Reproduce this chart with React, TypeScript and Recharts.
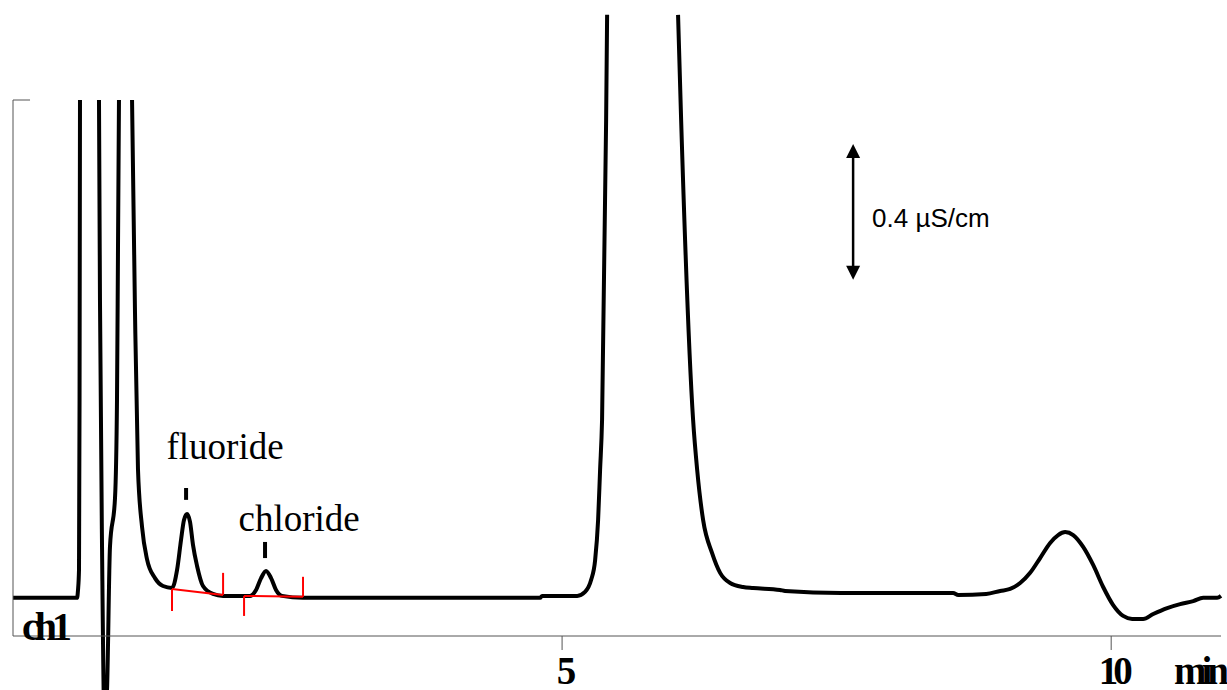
import { LineChart, Line, XAxis, YAxis, ReferenceLine, ReferenceDot } from "recharts";

// retention time (min) and conductivity (µS/cm); null = trace leaves the frame
const minutes = [
  0, 0.583, 0.592, 0.601, 0.606, 0.61, 0.7, 0.783, 0.792, 0.811, 0.833, 0.856, 0.883, 0.929,
  0.947, 0.956, 0.965, 1.02, 1.084, 1.111, 1.138, 1.175, 1.22, 1.293, 1.366, 1.448, 1.494,
  1.53, 1.557, 1.585, 1.612, 1.639, 1.676, 1.73, 1.821, 1.913, 2.158, 2.213, 2.259, 2.304,
  2.35, 2.395, 2.45, 2.641, 4.8, 4.818, 5.137, 5.209, 5.264, 5.301, 5.328, 5.346, 5.364,
  5.401, 5.41, 5.7, 6.056, 6.084, 6.193, 6.23, 6.284, 6.366, 6.439, 6.53, 6.648, 6.74, 6.985,
  7.031, 7.541, 8.561, 8.607, 8.862, 8.989, 9.08, 9.171, 9.262, 9.353, 9.444, 9.517, 9.581,
  9.654, 9.745, 9.836, 9.927, 10.018, 10.109, 10.191, 10.291, 10.383, 10.51, 10.628, 10.747,
  10.838, 10.965, 11.0,
];
const conductivity = [
  0.116, 0.116, 0.14, 0.201, 0.718, 1.63, null, 1.63, 1.022, 0.262, -0.255, -0.164, 0.271,
  0.42, 0.718, 1.174, 1.63, null, 1.63, 0.982, 0.508, 0.332, 0.234, 0.176, 0.152, 0.146,
  0.201, 0.292, 0.353, 0.371, 0.347, 0.277, 0.213, 0.152, 0.128, 0.122, 0.122, 0.14, 0.176,
  0.198, 0.176, 0.14, 0.122, 0.116, 0.116, 0.122, 0.122, 0.134, 0.17, 0.231, 0.353, 0.505,
  0.657, 1.569, 1.889, null, 1.889, 1.569, 0.657, 0.505, 0.353, 0.252, 0.192, 0.161, 0.149,
  0.146, 0.14, 0.137, 0.131, 0.131, 0.125, 0.128, 0.137, 0.143, 0.161, 0.192, 0.237, 0.283,
  0.307, 0.316, 0.307, 0.271, 0.216, 0.149, 0.094, 0.061, 0.052, 0.052, 0.067, 0.085, 0.097,
  0.106, 0.116, 0.116, 0.122,
];

const tickMinutes = [5, 10];

// peak annotations
const peakNames = ["fluoride", "chloride"];
const peakTimes = [1.576, 2.295];
const peakMarkLow = [0.414, 0.237];
const peakMarkHigh = [0.45, 0.286];
const nameTimes = [1.931, 2.605];
const nameLevels = [0.538, 0.319];

// integration baselines (red)
const integStart = [1.448, 2.104];
const integEnd = [1.913, 2.641];
const integStartLevel = [0.143, 0.122];
const integEndLevel = [0.125, 0.119];
const integMark = [0.067, 0.061];

// scale bar
const scaleTime = 7.65;
const scaleLow = 1.083;
const scaleHigh = 1.496;
const scaleText = "0.4 µS/cm";

const data = minutes.map((t, i) => ({ t, v: conductivity[i] }));

const serif = "'Liberation Serif', 'Times New Roman', serif";
const axisGrey = "#555";

const XTick = (props: any) => {
  const { x, y, payload } = props;
  return (
    <text
      x={x + 2}
      y={y + 32}
      textAnchor="middle"
      fontFamily={serif}
      fontWeight="bold"
      fontSize={39}
      letterSpacing={-5}
      fill="#000"
    >
      {payload.value}
    </text>
  );
};

const UnitLabel = (props: any) => {
  const vb = props.viewBox || {};
  return (
    <text
      x={vb.x + vb.width - 47}
      y={vb.y + 48}
      fontFamily={serif}
      fontWeight="bold"
      fontSize={39}
      letterSpacing={-5}
      fill="#000"
    >
      min
    </text>
  );
};

const ScaleArrow = (props: any) => {
  const { x1, y1, y2 } = props;
  const top = Math.min(y1, y2);
  const bottom = Math.max(y1, y2);
  return (
    <g>
      <line x1={x1} y1={top + 10} x2={x1} y2={bottom - 10} stroke="#000" strokeWidth={2.5} />
      <polygon points={`${x1},${top} ${x1 - 7},${top + 14} ${x1 + 7},${top + 14}`} fill="#000" />
      <polygon
        points={`${x1},${bottom} ${x1 - 7},${bottom - 14} ${x1 + 7},${bottom - 14}`}
        fill="#000"
      />
    </g>
  );
};

const textShape =
  (text: string, style: Record<string, any>) =>
  (p: any) =>
    (
      <text x={p.cx} y={p.cy} fill="#000" {...style}>
        {text}
      </text>
    );

export default function App() {
  return (
    <div>
      <style>{"body{margin:0} .recharts-wrapper [clip-path]{clip-path:none !important}"}</style>
      <LineChart width={1227} height={690} data={data} margin={{ top: 100, right: 6, bottom: 0, left: 0 }}>
        <XAxis
          dataKey="t"
          type="number"
          domain={[0, 11]}
          ticks={tickMinutes}
          tickSize={14}
          tick={<XTick />}
          axisLine={{ stroke: axisGrey, strokeWidth: 1 }}
          tickLine={{ stroke: axisGrey, strokeWidth: 1 }}
          height={54}
          label={<UnitLabel />}
        />
        <YAxis
          type="number"
          domain={[0, 1.63]}
          allowDataOverflow
          width={13}
          tick={false}
          tickLine={false}
          axisLine={{ stroke: axisGrey, strokeWidth: 1 }}
        />
        <ReferenceLine
          segment={[
            { x: 0, y: 1.63 },
            { x: 0.155, y: 1.63 },
          ]}
          stroke={axisGrey}
          strokeWidth={1}
        />
        <Line
          dataKey="v"
          type="monotone"
          stroke="#000"
          strokeWidth={4}
          strokeLinejoin="round"
          dot={false}
          activeDot={false}
          isAnimationActive={false}
        />
        {peakNames.map((name, i) => (
          <ReferenceLine
            key={`mark-${name}`}
            segment={[
              { x: peakTimes[i], y: peakMarkLow[i] },
              { x: peakTimes[i], y: peakMarkHigh[i] },
            ]}
            stroke="#000"
            strokeWidth={4}
          />
        ))}
        {peakNames.map((name, i) => (
          <ReferenceDot
            key={`name-${name}`}
            x={nameTimes[i]}
            y={nameLevels[i]}
            r={0}
            ifOverflow="visible"
            shape={textShape(name, { fontFamily: serif, fontSize: 37, textAnchor: "middle" })}
          />
        ))}
        {integStart.map((s, i) => (
          <ReferenceLine
            key={`base-${i}`}
            segment={[
              { x: s, y: integStartLevel[i] },
              { x: integEnd[i], y: integEndLevel[i] },
            ]}
            stroke="#ff0000"
            strokeWidth={2}
          />
        ))}
        {integStart.map((s, i) => (
          <ReferenceLine
            key={`start-${i}`}
            segment={[
              { x: s, y: integStartLevel[i] },
              { x: s, y: integStartLevel[i] - integMark[i] },
            ]}
            stroke="#ff0000"
            strokeWidth={2}
          />
        ))}
        {integEnd.map((e, i) => (
          <ReferenceLine
            key={`end-${i}`}
            segment={[
              { x: e, y: integEndLevel[i] },
              { x: e, y: integEndLevel[i] + integMark[i] },
            ]}
            stroke="#ff0000"
            strokeWidth={2}
          />
        ))}
        <ReferenceLine
          segment={[
            { x: scaleTime, y: scaleLow },
            { x: scaleTime, y: scaleHigh },
          ]}
          shape={(p: any) => <ScaleArrow {...p} />}
        />
        <ReferenceDot
          x={7.823}
          y={1.271}
          r={0}
          shape={textShape(scaleText, {
            fontFamily: "'Liberation Sans', Arial, sans-serif",
            fontSize: 26,
            dominantBaseline: "central",
          })}
        />
        <ReferenceDot
          x={0.082}
          y={-0.012}
          r={0}
          ifOverflow="visible"
          shape={textShape("ch1", {
            fontFamily: serif,
            fontSize: 40,
            fontWeight: "bold",
            letterSpacing: -5,
          })}
        />
      </LineChart>
    </div>
  );
}
